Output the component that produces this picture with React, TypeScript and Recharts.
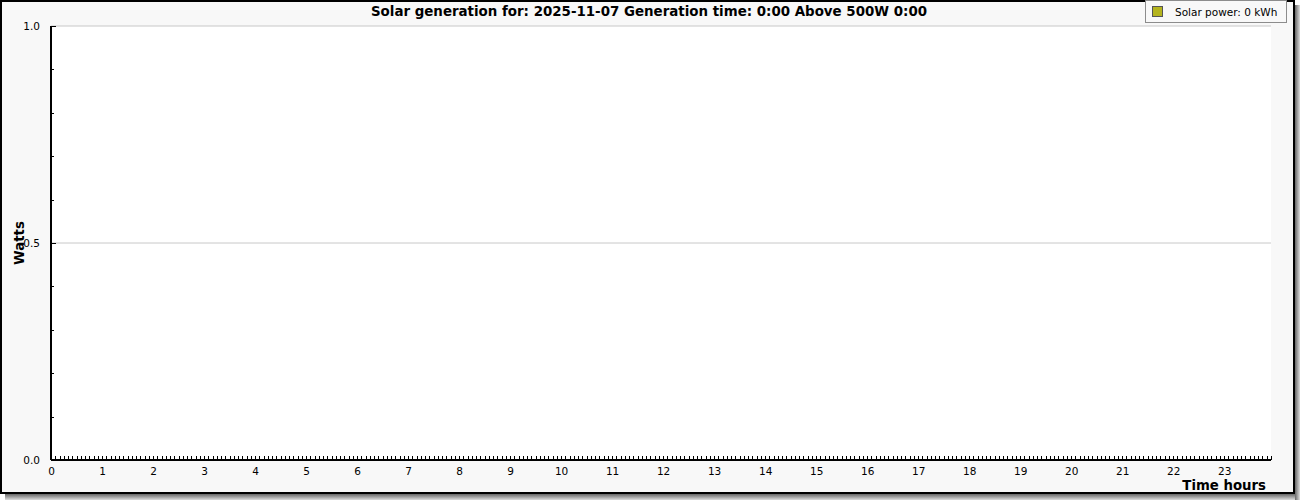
import { Area, CartesianGrid, ComposedChart, Label, Legend, ReferenceLine, XAxis, YAxis } from "recharts";

// header figures
const chartDate = "2025-11-07";
const generationTime = "0:00";
const above500W = "0:00";
const totalKwh = 0;

// one label per hour on the time axis
const hourLabels = [
  "0", "1", "2", "3", "4", "5", "6", "7", "8", "9", "10", "11",
  "12", "13", "14", "15", "16", "17", "18", "19", "20", "21", "22", "23",
];
const slotsPerHour = 12;

// 5-minute readings, one row per hour (nothing generated that day)
const solarWatts = [
  0, 0, 0, 0, 0, 0, 0, 0, 0, 0, 0, 0,
  0, 0, 0, 0, 0, 0, 0, 0, 0, 0, 0, 0,
  0, 0, 0, 0, 0, 0, 0, 0, 0, 0, 0, 0,
  0, 0, 0, 0, 0, 0, 0, 0, 0, 0, 0, 0,
  0, 0, 0, 0, 0, 0, 0, 0, 0, 0, 0, 0,
  0, 0, 0, 0, 0, 0, 0, 0, 0, 0, 0, 0,
  0, 0, 0, 0, 0, 0, 0, 0, 0, 0, 0, 0,
  0, 0, 0, 0, 0, 0, 0, 0, 0, 0, 0, 0,
  0, 0, 0, 0, 0, 0, 0, 0, 0, 0, 0, 0,
  0, 0, 0, 0, 0, 0, 0, 0, 0, 0, 0, 0,
  0, 0, 0, 0, 0, 0, 0, 0, 0, 0, 0, 0,
  0, 0, 0, 0, 0, 0, 0, 0, 0, 0, 0, 0,
  0, 0, 0, 0, 0, 0, 0, 0, 0, 0, 0, 0,
  0, 0, 0, 0, 0, 0, 0, 0, 0, 0, 0, 0,
  0, 0, 0, 0, 0, 0, 0, 0, 0, 0, 0, 0,
  0, 0, 0, 0, 0, 0, 0, 0, 0, 0, 0, 0,
  0, 0, 0, 0, 0, 0, 0, 0, 0, 0, 0, 0,
  0, 0, 0, 0, 0, 0, 0, 0, 0, 0, 0, 0,
  0, 0, 0, 0, 0, 0, 0, 0, 0, 0, 0, 0,
  0, 0, 0, 0, 0, 0, 0, 0, 0, 0, 0, 0,
  0, 0, 0, 0, 0, 0, 0, 0, 0, 0, 0, 0,
  0, 0, 0, 0, 0, 0, 0, 0, 0, 0, 0, 0,
  0, 0, 0, 0, 0, 0, 0, 0, 0, 0, 0, 0,
  0, 0, 0, 0, 0, 0, 0, 0, 0, 0, 0, 0,
];

const wattTicks = [0, 0.1, 0.2, 0.3, 0.4, 0.5, 0.6, 0.7, 0.8, 0.9, 1];
const wattLabelTicks = [0, 0.5, 1];
const wattGridLines = [0.5, 1];

const rows = solarWatts.map((watts, slot) => ({ slot, watts }));
const slotTicks = rows.map((r) => r.slot);

const FONT = "'DejaVu Sans', sans-serif";
const BG = "#f8f8f8";
const SOLAR = "#b4b41e";

function SlotTick({ x, y, payload }: any) {
  const slot = payload.value as number;
  const px = Math.round(x) + 0.5;
  return (
    <g>
      <line x1={px} x2={px} y1={y - 4} y2={y} stroke="#000" />
      {slot % slotsPerHour === 0 && (
        <text x={x + 0.5} y={y + 15} textAnchor="middle" fontSize={10.5} fontFamily={FONT} fill="#000">
          {hourLabels[slot / slotsPerHour]}
        </text>
      )}
    </g>
  );
}

function WattTick({ x, y, payload }: any) {
  const v = payload.value as number;
  const major = wattLabelTicks.includes(v);
  const py = Math.round(y) + 0.5;
  return (
    <g>
      <line x1={x} x2={x + (major ? 5 : 3)} y1={py} y2={py} stroke="#000" />
      {major && (
        <text x={x - 11} y={y + 4} textAnchor="end" fontSize={10.5} fontFamily={FONT} fill="#000">
          {v.toFixed(1)}
        </text>
      )}
    </g>
  );
}

function LegendBox({ payload }: any) {
  return (
    <div
      style={{
        boxSizing: "border-box",
        height: 23,
        border: "1px solid #8c8c8c",
        background: BG,
        display: "flex",
        alignItems: "center",
        paddingLeft: 6,
        fontFamily: FONT,
        fontSize: 10.5,
        color: "#000",
      }}
    >
      {(payload ?? []).map((p: any) => (
        <span key={p.value} style={{ display: "flex", alignItems: "center" }}>
          <span style={{ width: 9, height: 9, background: SOLAR, border: "1px solid #555" }} />
          <span style={{ marginLeft: 12 }}>{p.value}</span>
        </span>
      ))}
    </div>
  );
}

export default function App() {
  return (
    <div style={{ position: "absolute", left: 0, top: 0, width: 1300, height: 500 }}>
      {/* frame + drop shadow */}
      <div
        style={{
          position: "absolute",
          left: 0,
          top: 0,
          width: 1295,
          height: 494,
          boxSizing: "border-box",
          border: "2px solid #000",
          background: BG,
        }}
      />
      <div
        style={{
          position: "absolute",
          left: 1295,
          top: 5,
          width: 5,
          height: 495,
          background: "linear-gradient(to right, #666, #ddd)",
        }}
      />
      <div
        style={{
          position: "absolute",
          left: 5,
          top: 494,
          width: 1290,
          height: 6,
          background: "linear-gradient(to bottom, #666, #ddd)",
        }}
      />
      <div
        style={{
          position: "absolute",
          left: 0,
          top: 4,
          width: 1298,
          textAlign: "center",
          fontFamily: FONT,
          fontWeight: "bold",
          fontSize: 13.4,
          color: "#000",
          whiteSpace: "nowrap",
        }}
      >
        Solar generation for: {chartDate} Generation time: {generationTime} Above 500W {above500W}
      </div>
      <div style={{ position: "absolute", left: 0, top: 0 }}>
        <ComposedChart
          width={1300}
          height={500}
          data={rows}
          margin={{ top: 26, right: 29, bottom: 10, left: 11 }}
        >
          <CartesianGrid fill="#ffffff" horizontal={false} vertical={false} />
          {wattGridLines.map((w) => (
            <ReferenceLine key={w} y={w} stroke="#c8c8c8" />
          ))}
          <XAxis
            type="number"
            dataKey="slot"
            domain={[0, slotTicks.length - 1]}
            ticks={slotTicks}
            interval={0}
            height={30}
            tickSize={0}
            tickMargin={0}
            tickLine={false}
            axisLine={{ stroke: "#000", strokeWidth: 2 }}
            tick={<SlotTick />}
          >
            <Label
              content={({ viewBox }: any) => (
                <text
                  x={viewBox.x + viewBox.width - 5}
                  y={viewBox.y + 30}
                  textAnchor="end"
                  fontFamily={FONT}
                  fontWeight="bold"
                  fontSize={13.3}
                  fill="#000"
                >
                  Time hours
                </text>
              )}
            />
          </XAxis>
          <YAxis
            type="number"
            domain={[0, 1]}
            ticks={wattTicks}
            interval={0}
            width={40}
            tickSize={0}
            tickMargin={0}
            tickLine={false}
            axisLine={{ stroke: "#000", strokeWidth: 2 }}
            tick={<WattTick />}
          >
            <Label
              content={({ viewBox }: any) => {
                const cx = 24;
                const cy = viewBox.y + viewBox.height / 2;
                return (
                  <text
                    x={cx}
                    y={cy}
                    transform={`rotate(-90 ${cx} ${cy})`}
                    textAnchor="middle"
                    fontFamily={FONT}
                    fontWeight="bold"
                    fontSize={13.3}
                    fill="#000"
                  >
                    Watts
                  </text>
                );
              }}
            />
          </YAxis>
          <Area
            dataKey="watts"
            type="stepAfter"
            stroke="none"
            fill={SOLAR}
            fillOpacity={1}
            name={`Solar power: ${totalKwh} kWh`}
            isAnimationActive={false}
          />
          <Legend
            layout="vertical"
            verticalAlign="middle"
            align="center"
            wrapperStyle={{ top: 0, left: 1145, width: 142, height: 23 }}
            content={LegendBox}
          />
        </ComposedChart>
      </div>
    </div>
  );
}
